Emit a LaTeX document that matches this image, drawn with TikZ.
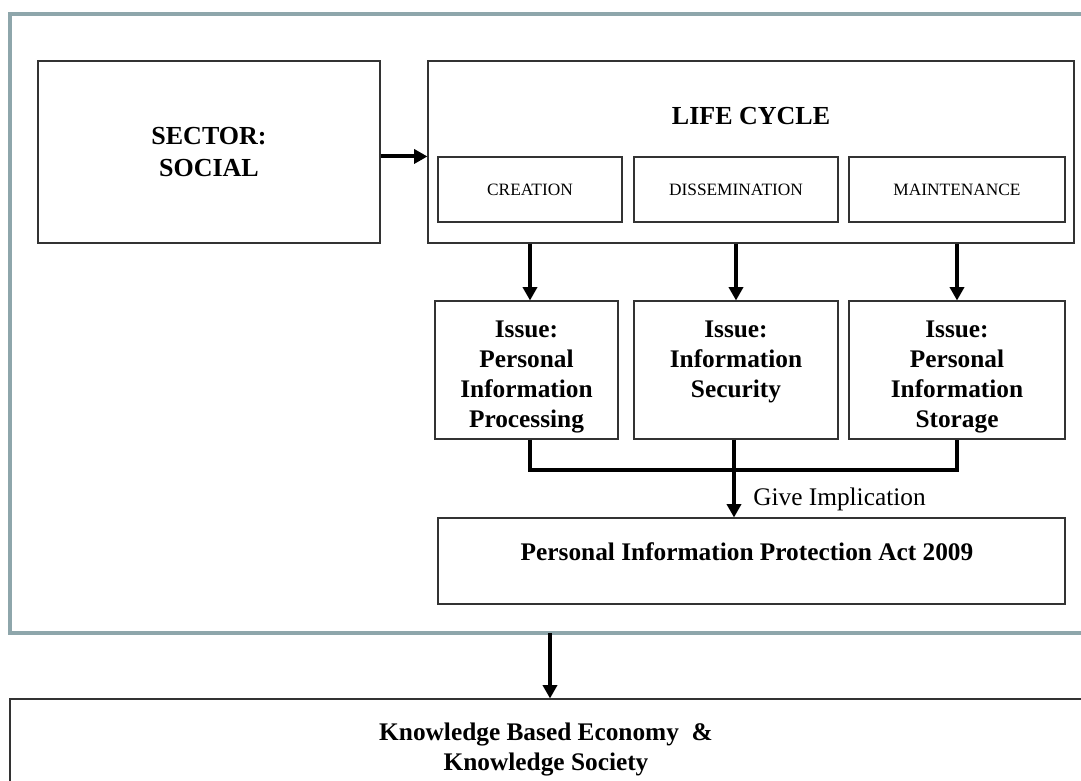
\documentclass[tikz,border=0pt]{standalone}
\usepackage{fontspec}
\setmainfont{Liberation Serif}
\usetikzlibrary{positioning, fit, arrows.meta}
\definecolor{framegray}{HTML}{8EA6AB}
\tikzset{>={Triangle[length=10pt, width=10.5pt]}, % heavy filled heads
box/.style={draw=black!80, line width=0.8pt, inner sep=0pt}, % plain outlined box
frame/.style={draw=framegray, line width=2.4pt, inner sep=0pt}, % the grey surround
link/.style={->, line width=3pt}, % thick arrows
wire/.style={line width=3pt},
big/.style={font=\fontsize{19}{22.5}\selectfont\bfseries, align=center, inner sep=0pt},
small/.style={font=\fontsize{13}{15}\selectfont},
}

\begin{document}
\begin{tikzpicture}[x=0.75pt, y=-0.75pt]
  \useasboundingbox (0,0) rectangle (1081,781);
  \clip (0,0) rectangle (1081,781);

  \node[frame, fit={(10,14) (1100,633)}] (frame) {};

  \node[box, minimum width=256.5pt, minimum height=136.5pt, big, font=\fontsize{19.5}{24.5}\selectfont\bfseries] (sector) at (209,152) {SECTOR:\\ SOCIAL};
  \node[box, minimum width=484.5pt, minimum height=136.5pt] (life) at (751,152) {};
  \node[big, font=\fontsize{19.5}{24}\selectfont\bfseries, anchor=base] (cycle) at (751,125) {LIFE CYCLE};

  \node[box, small, minimum width=138pt, minimum height=48.75pt] (creation) at (530,189.5) {CREATION};
  \node[box, small, minimum width=153pt, minimum height=48.75pt] (dissem) at (736,189.5) {DISSEMINATION};
  \node[box, small, minimum width=162pt, minimum height=48.75pt] (maint) at (957,189.5) {MAINTENANCE};

  \node[box, minimum width=137.25pt, minimum height=103.5pt] (iss1) at (526.5,370) {};
  \node[box, minimum width=153pt, minimum height=103.5pt] (iss2) at (736,370) {};
  \node[box, minimum width=162pt, minimum height=103.5pt] (iss3) at (957,370) {};
  \node[big, below=15.5pt of iss1.north] (issue1) {Issue:\\Personal\\Information\\Processing};
  \node[big, below=15.5pt of iss2.north] (issue2) {Issue:\\Information\\Security};
  \node[big, below=15.5pt of iss3.north] (issue3) {Issue:\\Personal\\Information\\Storage};

  \node[box, minimum width=470.25pt, minimum height=64.5pt] (act) at (751.5,561) {};
  \node[big, anchor=base] (acttext) at (747,560) {Personal Information Protection Act 2009};

  \node[box, fit={(10,699) (1100,800)}] (kbe) {};
  \node[big, anchor=north] (kbetext) at (546,723) {Knowledge Based Economy~ \&\\Knowledge Society};

  \draw[link] (sector.east |- creation.north) -- (life.west |- creation.north);

  \draw[link] (creation |- life.south) -- (creation |- iss1.north);
  \draw[link] (dissem |- life.south) -- (dissem |- iss2.north);
  \draw[link] (maint |- life.south) -- (maint |- iss3.north);

  % the three issues meet and go down to the act
  \coordinate (join) at (734,470);
  \draw[wire] (creation |- iss1.south) |- (join) -| (maint |- iss3.south);
  \draw[link] (join |- iss2.south) -- (join |- act.north);
  \node[font=\fontsize{19}{22}\selectfont, anchor=base west, inner sep=0pt] (give) at (753,505) {Give Implication};

  % out of the frame, down to the last box
  \coordinate (drop) at (550,633);
  \draw[link] (drop) -- (drop |- kbe.north);
\end{tikzpicture}
\end{document}
